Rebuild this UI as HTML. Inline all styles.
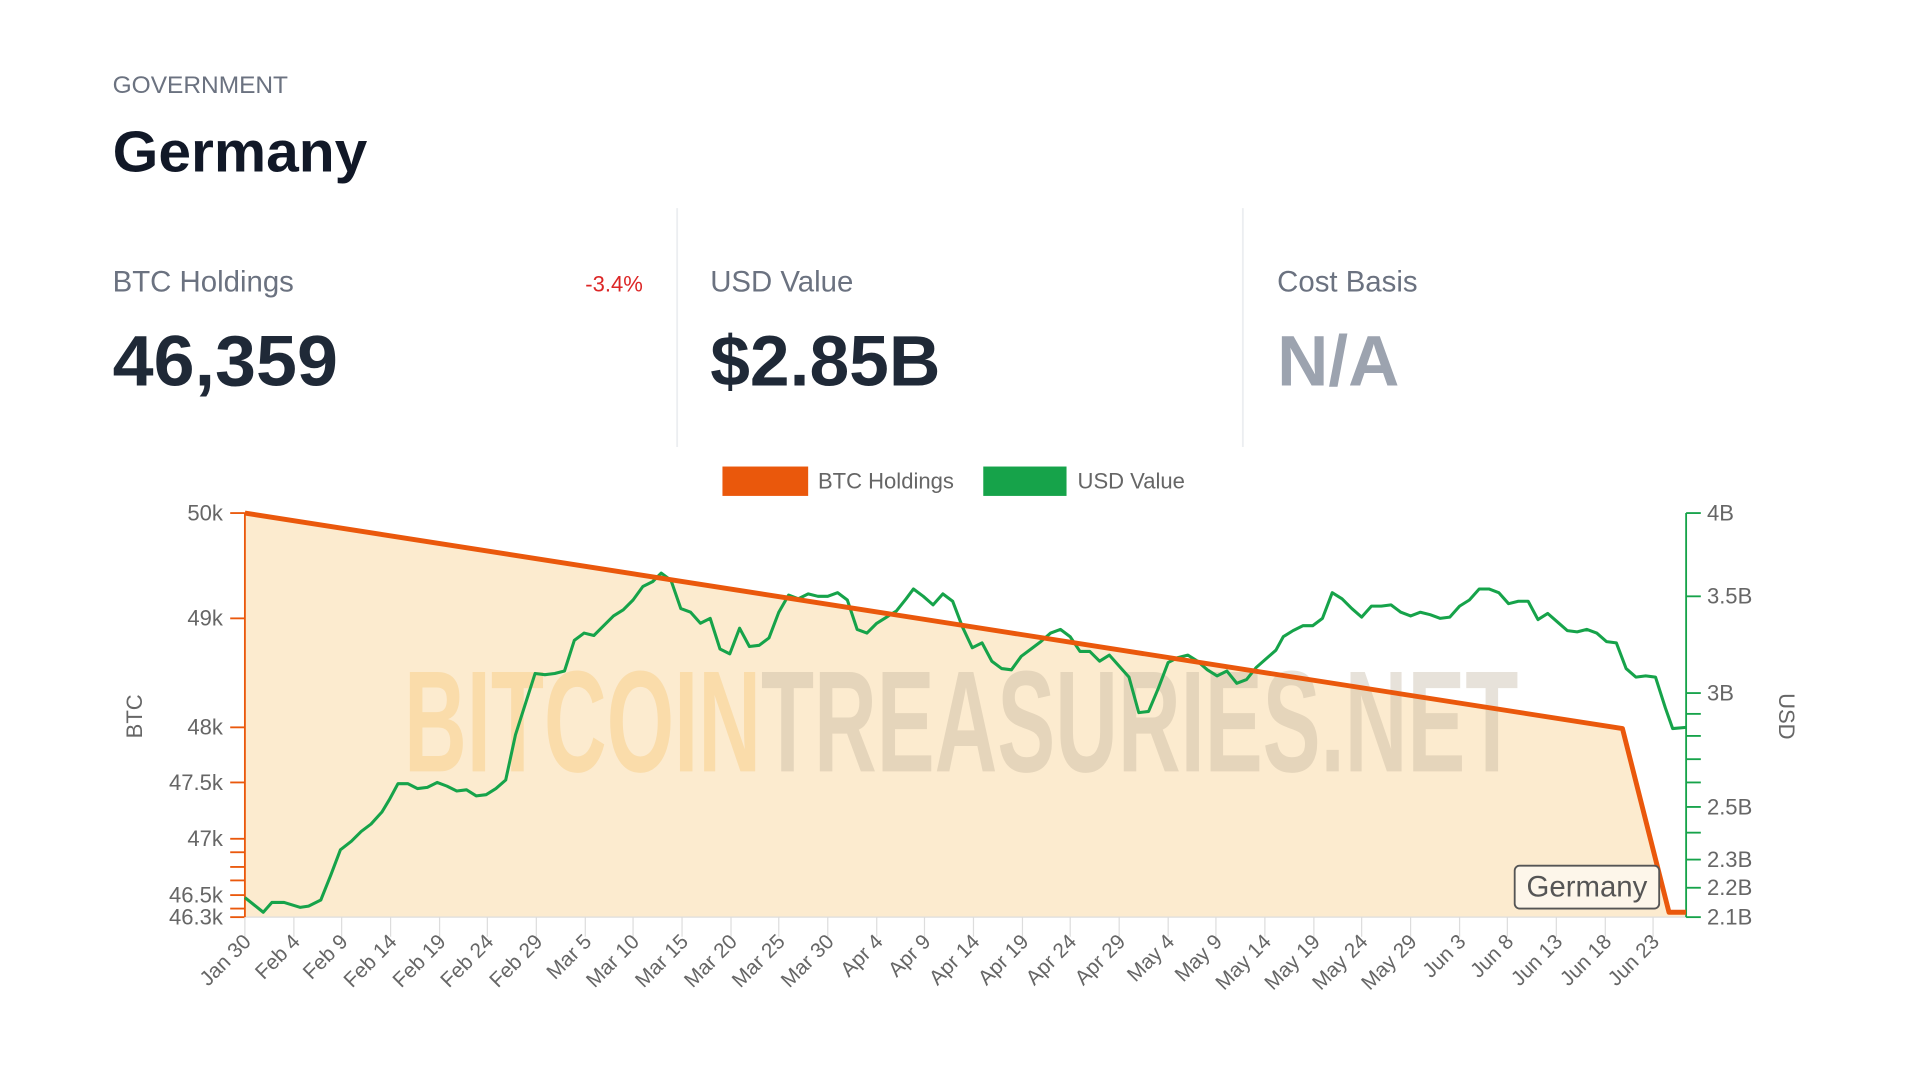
<!DOCTYPE html>
<html><head><meta charset="utf-8"><style>html,body{margin:0;padding:0;background:#fff}svg{display:block}</style></head>
<body>
<svg width="1920" height="1080" viewBox="0 0 1568 882" xmlns="http://www.w3.org/2000/svg" font-family="Liberation Sans, sans-serif">
<rect width="1568" height="882" fill="#fff"/>
<text x="92" y="76" font-size="20" fill="#6b7280">GOVERNMENT</text>
<text x="92" y="140" font-size="47" font-weight="bold" fill="#111827" textLength="208" lengthAdjust="spacingAndGlyphs">Germany</text>
<line x1="553" y1="170" x2="553" y2="365" stroke="#eceef1" stroke-width="1.5"/>
<line x1="1015" y1="170" x2="1015" y2="365" stroke="#eceef1" stroke-width="1.5"/>
<text x="92" y="238" font-size="24" fill="#6b7280">BTC Holdings</text>
<text x="525" y="238" font-size="18" fill="#dc2626" text-anchor="end">-3.4%</text>
<text x="92" y="315" font-size="58" font-weight="bold" fill="#1f2937" textLength="184" lengthAdjust="spacingAndGlyphs">46,359</text>
<text x="580" y="238" font-size="24" fill="#6b7280">USD Value</text>
<text x="580" y="315" font-size="58" font-weight="bold" fill="#1f2937" textLength="188" lengthAdjust="spacingAndGlyphs">$2.85B</text>
<text x="1043" y="238" font-size="24" fill="#6b7280">Cost Basis</text>
<text x="1043" y="315" font-size="58" font-weight="bold" fill="#9ca3af">N/A</text>

<rect x="590" y="381" width="70" height="24" fill="#ea580c"/>
<text x="668" y="399" font-size="18" fill="#666">BTC Holdings</text>
<rect x="803" y="381" width="68" height="24" fill="#16a34a"/>
<text x="880" y="399" font-size="18" fill="#666">USD Value</text>

<polygon points="200,419 1325,595 1363,745 1377,745 1377,749 200,749" fill="#fcebcf"/>
<text x="330" y="630" font-size="118" font-weight="bold" textLength="910" lengthAdjust="spacingAndGlyphs"><tspan fill="#f7cf8c" fill-opacity="0.55">BITCOIN</tspan><tspan fill="#b9ab94" fill-opacity="0.35">TREASURIES.NET</tspan></text>

<line x1="200" y1="749" x2="1377" y2="749" stroke="#ddd"/>

<g stroke="#ea580c" stroke-width="1.5">
<line x1="200" y1="419" x2="200" y2="749"/>
<line x1="188" y1="419" x2="200" y2="419"/><line x1="188" y1="505" x2="200" y2="505"/><line x1="188" y1="594" x2="200" y2="594"/><line x1="188" y1="639" x2="200" y2="639"/><line x1="188" y1="685" x2="200" y2="685"/><line x1="188" y1="696" x2="200" y2="696"/><line x1="188" y1="708" x2="200" y2="708"/><line x1="188" y1="719" x2="200" y2="719"/><line x1="188" y1="731" x2="200" y2="731"/><line x1="188" y1="742" x2="200" y2="742"/><line x1="188" y1="749" x2="200" y2="749"/>
</g>
<g font-size="18" fill="#666" text-anchor="end">
<text x="182" y="425">50k</text><text x="182" y="511">49k</text><text x="182" y="600">48k</text><text x="182" y="645">47.5k</text><text x="182" y="691">47k</text><text x="182" y="737">46.5k</text><text x="182" y="755">46.3k</text>
</g>
<text transform="translate(116,585) rotate(-90)" font-size="18" fill="#666" text-anchor="middle">BTC</text>

<g stroke="#16a34a" stroke-width="1.5">
<line x1="1377" y1="419" x2="1377" y2="749"/>
<line x1="1377" y1="419" x2="1389" y2="419"/><line x1="1377" y1="487" x2="1389" y2="487"/><line x1="1377" y1="566" x2="1389" y2="566"/><line x1="1377" y1="583" x2="1389" y2="583"/><line x1="1377" y1="601" x2="1389" y2="601"/><line x1="1377" y1="620" x2="1389" y2="620"/><line x1="1377" y1="639" x2="1389" y2="639"/><line x1="1377" y1="659" x2="1389" y2="659"/><line x1="1377" y1="680" x2="1389" y2="680"/><line x1="1377" y1="702" x2="1389" y2="702"/><line x1="1377" y1="725" x2="1389" y2="725"/><line x1="1377" y1="749" x2="1389" y2="749"/>
</g>
<g font-size="18" fill="#666">
<text x="1394" y="425">4B</text><text x="1394" y="493">3.5B</text><text x="1394" y="572">3B</text><text x="1394" y="665">2.5B</text><text x="1394" y="708">2.3B</text><text x="1394" y="731">2.2B</text><text x="1394" y="755">2.1B</text>
</g>
<text transform="translate(1453,585) rotate(90)" font-size="18" fill="#666" text-anchor="middle">USD</text>

<polyline fill="none" stroke="#16a34a" stroke-width="2.5" stroke-linejoin="round" points="200,733 215,745 222,737 232,737 245,741 252,740 262,735 270,715 278,694 287,687 295,679 303,673 312,663 318,653 325,640 333,640 341,644 349,643 357,639 365,642 373,646 381,645 389,650 397,649 405,644 413,637 421,600 429,575 437,550 445,551 453,550 461,548 469,523 477,517 485,519 493,511 501,503 509,498 517,490 525,479 533,475 540,468 548,474 556,497 564,500 572,509 580,505 588,530 596,534 604,513 612,528 620,527 628,521 636,500 644,486 652,489 660,485 668,487 676,487 684,484 692,490 700,514 708,517 716,509 724,504 732,499 740,489 746,481 754,487 762,494 770,485 778,491 786,512 794,529 802,525 810,540 818,546 826,547 834,536 842,530 850,524 858,517 866,514 874,520 882,532 890,532 898,540 906,535 914,544 922,553 930,582 938,581 946,562 954,541 962,537 970,535 978,540 986,547 994,552 1002,548 1010,558 1018,555 1026,545 1034,538 1042,531 1048,520 1056,515 1064,511 1072,511 1080,505 1088,484 1096,489 1104,497 1112,504 1120,495 1128,495 1136,494 1144,500 1152,503 1160,500 1168,502 1176,505 1184,504 1192,495 1200,490 1208,481 1216,481 1224,484 1232,493 1240,491 1248,491 1256,506 1264,501 1272,508 1280,515 1288,516 1296,514 1304,517 1312,524 1320,525 1328,546 1336,553 1344,552 1352,553 1360,578 1366,595 1377,594"/>
<polyline fill="none" stroke="#ea580c" stroke-width="4" stroke-linejoin="round" points="200,419 1325,595 1363,745 1377,745"/>

<rect x="1237" y="707" width="118" height="35" rx="4" fill="#fdf6ea" stroke="#555" stroke-width="1.5"/>
<text x="1296" y="732" font-size="24" fill="#555" text-anchor="middle">Germany</text>

<g font-size="17" fill="#666" text-anchor="end">
<g stroke="#ddd"><path d="M200 749v16M240 749v16M279 749v16M319 749v16M359 749v16M398 749v16M438 749v16M478 749v16M517 749v16M557 749v16M597 749v16M636 749v16M676 749v16M716 749v16M755 749v16M795 749v16M835 749v16M874 749v16M914 749v16M954 749v16M993 749v16M1033 749v16M1073 749v16M1112 749v16M1152 749v16M1192 749v16M1231 749v16M1271 749v16M1311 749v16M1350 749v16"/></g>
<text transform="translate(206,770) rotate(-45)">Jan 30</text>
<text transform="translate(246,770) rotate(-45)">Feb 4</text>
<text transform="translate(285,770) rotate(-45)">Feb 9</text>
<text transform="translate(325,770) rotate(-45)">Feb 14</text>
<text transform="translate(365,770) rotate(-45)">Feb 19</text>
<text transform="translate(404,770) rotate(-45)">Feb 24</text>
<text transform="translate(444,770) rotate(-45)">Feb 29</text>
<text transform="translate(484,770) rotate(-45)">Mar 5</text>
<text transform="translate(523,770) rotate(-45)">Mar 10</text>
<text transform="translate(563,770) rotate(-45)">Mar 15</text>
<text transform="translate(603,770) rotate(-45)">Mar 20</text>
<text transform="translate(642,770) rotate(-45)">Mar 25</text>
<text transform="translate(682,770) rotate(-45)">Mar 30</text>
<text transform="translate(722,770) rotate(-45)">Apr 4</text>
<text transform="translate(761,770) rotate(-45)">Apr 9</text>
<text transform="translate(801,770) rotate(-45)">Apr 14</text>
<text transform="translate(841,770) rotate(-45)">Apr 19</text>
<text transform="translate(880,770) rotate(-45)">Apr 24</text>
<text transform="translate(920,770) rotate(-45)">Apr 29</text>
<text transform="translate(960,770) rotate(-45)">May 4</text>
<text transform="translate(999,770) rotate(-45)">May 9</text>
<text transform="translate(1039,770) rotate(-45)">May 14</text>
<text transform="translate(1079,770) rotate(-45)">May 19</text>
<text transform="translate(1118,770) rotate(-45)">May 24</text>
<text transform="translate(1158,770) rotate(-45)">May 29</text>
<text transform="translate(1198,770) rotate(-45)">Jun 3</text>
<text transform="translate(1237,770) rotate(-45)">Jun 8</text>
<text transform="translate(1277,770) rotate(-45)">Jun 13</text>
<text transform="translate(1317,770) rotate(-45)">Jun 18</text>
<text transform="translate(1356,770) rotate(-45)">Jun 23</text>
</g>
</svg>
</body></html>
